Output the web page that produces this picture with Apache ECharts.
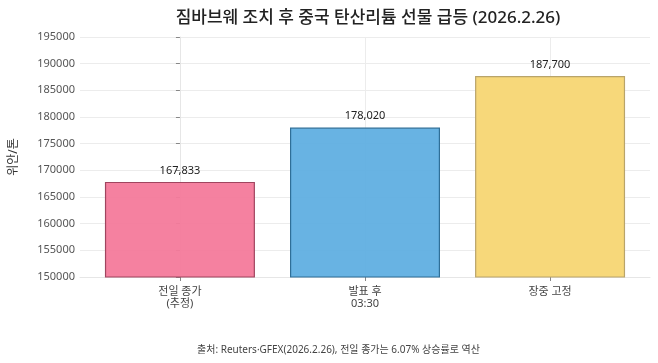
<!DOCTYPE html>
<html><head><meta charset="utf-8">
<script src="https://cdn.jsdelivr.net/npm/echarts@6/dist/echarts.min.js"></script>
<style>html,body{margin:0;padding:0;background:#fff}#c{width:658px;height:363px}</style>
</head><body><div id="c"></div>
<script>
const categories = ['전일 종가\n(추정)', '발표 후\n03:30', '장중 고정'];
const values = [167833, 178020, 187700];
const colors = ['rgba(244,122,155,0.95)', 'rgba(96,175,226,0.95)', 'rgba(247,215,118,0.97)'];
const borders = ['#a0455f', '#2f6f98', '#b9a46a'];
const yTicks = {min: 150000, max: 195000, interval: 5000};
const FONT = '"Noto Sans", "Noto Sans CJK KR", sans-serif';

const chart = echarts.init(document.getElementById('c'), null, {renderer: 'canvas'});
chart.setOption({
  animation: false,
  textStyle: {fontFamily: FONT},
  title: {
    text: '짐바브웨 조치 후 중국 탄산리튬 선물 급등 (2026.2.26)',
    left: 363, textAlign: 'center', top: 5,
    textStyle: {fontFamily: FONT, fontSize: 17, fontWeight: 500, color: '#222'}
  },
  graphic: [{
    type: 'text', left: 197, top: 345,
    style: {text: '출처: Reuters·GFEX(2026.2.26), 전일 종가는 6.07% 상승률로 역산', font: '10px ' + FONT, fill: '#444'}
  }],
  grid: {left: 76, right: 8, top: 37, bottom: 86},
  xAxis: {
    type: 'value', min: -0.54, max: 2.54,
    axisLine: {show: true, lineStyle: {color: '#e6e6e6'}},
    axisTick: {show: true, customValues: [0, 1, 2], length: 4, lineStyle: {color: '#888'}},
    axisLabel: {customValues: [0, 1, 2], formatter: v => categories[Math.round(v)], color: '#444', fontSize: 11, lineHeight: 12, margin: 9, fontFamily: FONT},
    splitLine: {show: true, lineStyle: {color: '#ececec'}}
  },
  yAxis: {
    type: 'value', min: yTicks.min, max: yTicks.max, interval: yTicks.interval,
    name: '위안/톤', nameLocation: 'middle', nameGap: 60, nameRotate: 90,
    nameTextStyle: {fontSize: 12, color: '#333', fontFamily: FONT},
    axisLine: {show: true, lineStyle: {color: '#e6e6e6'}},
    axisTick: {show: true, length: 4, lineStyle: {color: '#888'}},
    axisLabel: {color: '#555', fontSize: 11, margin: 5, fontFamily: FONT, formatter: v => String(v)},
    splitLine: {show: true, lineStyle: {color: '#ececec'}}
  },
  series: [{
    type: 'bar', barWidth: 150,
    data: values.map((v, i) => ({
      value: [i, v],
      itemStyle: {color: colors[i], borderColor: borders[i], borderWidth: 1.2}
    })),
    label: {show: true, position: 'top', distance: 6, color: '#222', fontSize: 11, fontFamily: FONT,
      formatter: p => p.value[1].toLocaleString('en-US')}
  }]
});
</script></body></html>
